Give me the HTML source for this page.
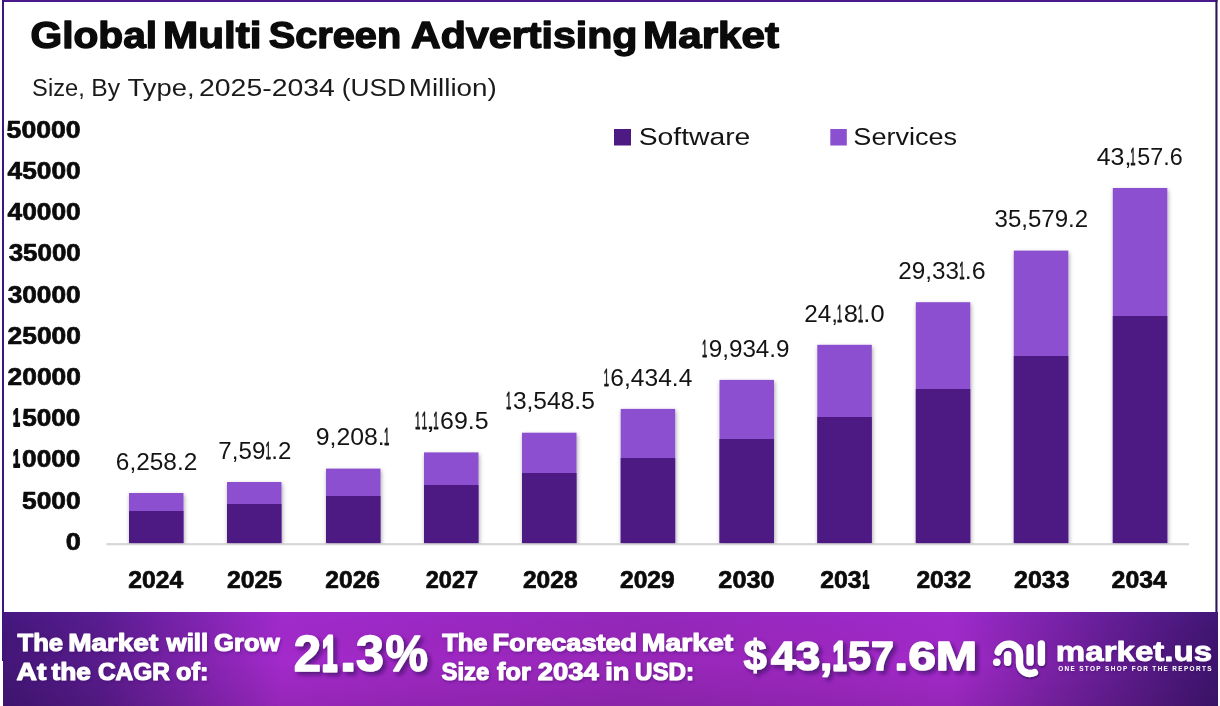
<!DOCTYPE html>
<html lang="en"><head><meta charset="utf-8"><title>Global Multi Screen Advertising Market</title>
<style>
html,body{margin:0;padding:0;background:#fff;}
body{width:1220px;height:706px;overflow:hidden;}
svg{display:block;font-family:"Liberation Sans", Arial, sans-serif;}
text{stroke-linejoin:round;}
</style></head><body>
<svg width="1220" height="706" viewBox="0 0 1220 706">
<defs>
<linearGradient id="fg" x1="0" y1="0" x2="1" y2="0">
<stop offset="0" stop-color="#431678"/>
<stop offset="0.08" stop-color="#591b8c"/>
<stop offset="0.23" stop-color="#a42acb"/>
<stop offset="0.36" stop-color="#9e28c2"/>
<stop offset="0.52" stop-color="#9727b8"/>
<stop offset="0.68" stop-color="#9e28c2"/>
<stop offset="0.78" stop-color="#a42acb"/>
<stop offset="0.90" stop-color="#6a1e98"/>
<stop offset="1" stop-color="#3e146e"/>
</linearGradient>
<linearGradient id="vg" x1="0" y1="0" x2="0" y2="1">
<stop offset="0" stop-color="#6a3cff" stop-opacity="0.07"/>
<stop offset="0.5" stop-color="#000" stop-opacity="0"/>
<stop offset="1" stop-color="#000" stop-opacity="0.09"/>
</linearGradient>
<filter id="bs" x="-20%" y="-20%" width="140%" height="140%">
<feDropShadow dx="0.8" dy="2.0" stdDeviation="2.0" flood-color="#000" flood-opacity="0.36"/>
</filter>
<filter id="ts" x="-10%" y="-20%" width="120%" height="150%">
<feDropShadow dx="3" dy="3" stdDeviation="2.2" flood-color="#3a0f63" flood-opacity="0.75"/>
</filter>
<filter id="ls" x="-10%" y="-20%" width="120%" height="150%">
<feDropShadow dx="1" dy="1.5" stdDeviation="1.4" flood-color="#3a0f63" flood-opacity="0.4"/>
</filter>
<filter id="lg" x="-20%" y="-20%" width="140%" height="150%">
<feDropShadow dx="0.6" dy="1.2" stdDeviation="1.3" flood-color="#2c0a55" flood-opacity="0.9"/>
</filter>
<clipPath id="cp"><rect x="0" y="0" width="1220" height="543.5"/></clipPath>
</defs>
<rect x="0" y="0" width="1220" height="706" fill="#fff"/>

<rect x="2" y="0" width="1215.5" height="2" fill="#4a1a8c"/>
<rect x="2" y="0" width="2" height="661" fill="#3f1580"/>
<rect x="1215.4" y="0" width="2.1" height="613" fill="#2e1458"/>
<rect x="3" y="612" width="1215" height="94" fill="url(#fg)"/>
<rect x="3" y="612" width="1215" height="94" fill="url(#vg)"/>
<rect x="106.5" y="543.1" width="1082.5" height="2.2" fill="#d6d6d6"/>
<g clip-path="url(#cp)"><g filter="url(#bs)">
<rect x="129.0" y="493.0" width="54.5" height="50.1" fill="#8b50cf"/>
<rect x="227.0" y="482.0" width="54.5" height="61.1" fill="#8b50cf"/>
<rect x="326.0" y="468.6" width="54.5" height="74.5" fill="#8b50cf"/>
<rect x="424.0" y="452.4" width="54.5" height="90.7" fill="#8b50cf"/>
<rect x="522.0" y="432.7" width="54.5" height="110.4" fill="#8b50cf"/>
<rect x="620.7" y="408.9" width="54.5" height="134.2" fill="#8b50cf"/>
<rect x="719.5" y="379.9" width="54.5" height="163.2" fill="#8b50cf"/>
<rect x="817.3" y="344.8" width="54.5" height="198.3" fill="#8b50cf"/>
<rect x="915.8" y="302.2" width="54.5" height="240.9" fill="#8b50cf"/>
<rect x="1013.8" y="250.6" width="54.5" height="292.5" fill="#8b50cf"/>
<rect x="1112.8" y="188.0" width="54.5" height="355.1" fill="#8b50cf"/>
</g></g>
<rect x="129.0" y="511.0" width="54.5" height="32.1" fill="#4c1a82"/>
<rect x="227.0" y="504.0" width="54.5" height="39.1" fill="#4c1a82"/>
<rect x="326.0" y="496.0" width="54.5" height="47.1" fill="#4c1a82"/>
<rect x="424.0" y="485.0" width="54.5" height="58.1" fill="#4c1a82"/>
<rect x="522.0" y="473.0" width="54.5" height="70.1" fill="#4c1a82"/>
<rect x="620.7" y="458.0" width="54.5" height="85.1" fill="#4c1a82"/>
<rect x="719.5" y="439.0" width="54.5" height="104.1" fill="#4c1a82"/>
<rect x="817.3" y="417.0" width="54.5" height="126.1" fill="#4c1a82"/>
<rect x="915.8" y="389.0" width="54.5" height="154.1" fill="#4c1a82"/>
<rect x="1013.8" y="356.0" width="54.5" height="187.1" fill="#4c1a82"/>
<rect x="1112.8" y="316.0" width="54.5" height="227.1" fill="#4c1a82"/>
<rect x="614" y="129" width="17" height="16.5" fill="#4c1a82"/>
<rect x="830.3" y="129" width="16.5" height="16.5" fill="#8b50cf"/>
<g filter="url(#lg)">
<g fill="none" stroke="#fff" stroke-width="7.3" stroke-linecap="round">
<path d="M998.1 652.1 A10.9 10.9 0 0 1 1019.5 654.9 L1019.5 663 A10.5 10.5 0 0 0 1034.4 672.5"/>
<path d="M1007.6 654.6 L1007.6 662.3"/>
<path d="M1030.1 647.6 L1030.1 662.2"/>
<path d="M1041.4 643.9 L1041.4 662.3"/>
</g>
<circle cx="996.7" cy="662.3" r="3.75" fill="#fff"/>
</g>
<text><tspan font-size="37.4" font-weight="bold" fill="#0b0b0b" stroke="#0b0b0b" stroke-width="1.4" x="30.53" y="48.3" textLength="126.57" lengthAdjust="spacingAndGlyphs">Global</tspan> <tspan font-size="37.4" font-weight="bold" fill="#0b0b0b" stroke="#0b0b0b" stroke-width="1.4" x="162.95" y="48.3" textLength="98.56" lengthAdjust="spacingAndGlyphs">Multi</tspan> <tspan font-size="37.4" font-weight="bold" fill="#0b0b0b" stroke="#0b0b0b" stroke-width="1.4" x="268.77" y="48.3" textLength="132.37" lengthAdjust="spacingAndGlyphs">Screen</tspan> <tspan font-size="37.4" font-weight="bold" fill="#0b0b0b" stroke="#0b0b0b" stroke-width="1.4" x="411.10" y="48.3" textLength="226.41" lengthAdjust="spacingAndGlyphs">Advertising</tspan> <tspan font-size="37.4" font-weight="bold" fill="#0b0b0b" stroke="#0b0b0b" stroke-width="1.4" x="643.12" y="48.3" textLength="135.90" lengthAdjust="spacingAndGlyphs">Market</tspan></text>
<text><tspan font-size="24.8" font-weight="normal" fill="#1a1a1a" x="32.10" y="95.8" textLength="52.64" lengthAdjust="spacingAndGlyphs">Size,</tspan> <tspan font-size="24.8" font-weight="normal" fill="#1a1a1a" x="91.33" y="95.8" textLength="28.77" lengthAdjust="spacingAndGlyphs">By</tspan> <tspan font-size="24.8" font-weight="normal" fill="#1a1a1a" x="127.52" y="95.8" textLength="67.06" lengthAdjust="spacingAndGlyphs">Type,</tspan> <tspan font-size="24.8" font-weight="normal" fill="#1a1a1a" x="198.99" y="95.8" textLength="135.92" lengthAdjust="spacingAndGlyphs">2025-2034</tspan> <tspan font-size="24.8" font-weight="normal" fill="#1a1a1a" x="341.68" y="95.8" textLength="64.39" lengthAdjust="spacingAndGlyphs">(USD</tspan> <tspan font-size="24.8" font-weight="normal" fill="#1a1a1a" x="408.73" y="95.8" textLength="88.08" lengthAdjust="spacingAndGlyphs">Million)</tspan></text>
<g font-size="24.3" font-weight="bold" fill="#0b0b0b" stroke="#0b0b0b" stroke-width="0.7">
<text x="6.64" y="137.8" textLength="73.99" lengthAdjust="spacingAndGlyphs">50000</text>
<text x="7.59" y="179.0" textLength="73.20" lengthAdjust="spacingAndGlyphs">45000</text>
<text x="7.59" y="220.2" textLength="73.20" lengthAdjust="spacingAndGlyphs">40000</text>
<text x="8.67" y="261.4" textLength="72.11" lengthAdjust="spacingAndGlyphs">35000</text>
<text x="7.65" y="302.6" textLength="73.02" lengthAdjust="spacingAndGlyphs">30000</text>
<text x="7.58" y="343.8" textLength="73.30" lengthAdjust="spacingAndGlyphs">25000</text>
<text x="7.58" y="385.0" textLength="73.30" lengthAdjust="spacingAndGlyphs">20000</text>
<text x="21.99" y="508.6" textLength="58.65" lengthAdjust="spacingAndGlyphs">5000</text>
<text x="65.69" y="549.8" textLength="15.10" lengthAdjust="spacingAndGlyphs">0</text>
</g>
<g font-size="23.9" font-weight="normal" fill="#141414">
<text x="115.82" y="469.7" textLength="81.50" lengthAdjust="spacingAndGlyphs">6,258.2</text>
<text x="994.53" y="227.3" textLength="93.60" lengthAdjust="spacingAndGlyphs">35,579.2</text>
</g>
<g font-size="24.3" font-weight="bold" fill="#0b0b0b" stroke="#0b0b0b" stroke-width="0.7">
<text x="128.36" y="587.5" textLength="55.03" lengthAdjust="spacingAndGlyphs">2024</text>
<text x="227.09" y="587.5" textLength="55.04" lengthAdjust="spacingAndGlyphs">2025</text>
<text x="325.36" y="587.5" textLength="54.58" lengthAdjust="spacingAndGlyphs">2026</text>
<text x="425.75" y="587.5" textLength="52.33" lengthAdjust="spacingAndGlyphs">2027</text>
<text x="522.97" y="587.5" textLength="54.61" lengthAdjust="spacingAndGlyphs">2028</text>
<text x="619.97" y="587.5" textLength="54.79" lengthAdjust="spacingAndGlyphs">2029</text>
<text x="718.37" y="587.5" textLength="56.15" lengthAdjust="spacingAndGlyphs">2030</text>
<text x="916.41" y="587.5" textLength="54.86" lengthAdjust="spacingAndGlyphs">2032</text>
<text x="1014.10" y="587.5" textLength="55.41" lengthAdjust="spacingAndGlyphs">2033</text>
<text x="1111.61" y="587.5" textLength="55.27" lengthAdjust="spacingAndGlyphs">2034</text>
</g>
<g font-size="24.6" font-weight="normal" fill="#141414">
<text x="638.73" y="144.8" textLength="111.64" lengthAdjust="spacingAndGlyphs">Software</text>
<text x="853.39" y="144.8" textLength="103.79" lengthAdjust="spacingAndGlyphs">Services</text>
</g>
<g font-size="28" font-weight="bold" fill="#fff" stroke="#fff" stroke-width="0.8" filter="url(#ls)">
<text x="1055.87" y="661.4" textLength="156.21" lengthAdjust="spacingAndGlyphs">market.us</text>
</g>
<g font-size="6.4" font-weight="bold" fill="#fff" filter="url(#ls)">
<text x="1058.16" y="671.3" textLength="153.30" lengthAdjust="spacing">ONE STOP SHOP FOR THE REPORTS</text>
</g>
<text><tspan font-size="24.3" font-weight="bold" fill="#0b0b0b" stroke="#0b0b0b" stroke-width="2.0" x="12.99" y="426.2" textLength="6.96" lengthAdjust="spacingAndGlyphs">1</tspan><tspan font-size="24.3" font-weight="bold" fill="#0b0b0b" stroke="#0b0b0b" stroke-width="0.7" x="22.22" y="426.2" textLength="58.20" lengthAdjust="spacingAndGlyphs">5000</tspan></text>
<text><tspan font-size="24.3" font-weight="bold" fill="#0b0b0b" stroke="#0b0b0b" stroke-width="2.0" x="12.99" y="467.4" textLength="6.96" lengthAdjust="spacingAndGlyphs">1</tspan><tspan font-size="24.3" font-weight="bold" fill="#0b0b0b" stroke="#0b0b0b" stroke-width="0.7" x="22.13" y="467.4" textLength="58.29" lengthAdjust="spacingAndGlyphs">0000</tspan></text>
<text><tspan font-size="23.9" font-weight="normal" fill="#141414" x="218.39" y="458.7" textLength="46.99" lengthAdjust="spacingAndGlyphs">7,59</tspan><tspan font-size="23.9" font-weight="normal" fill="#141414" stroke="#141414" stroke-width="0.9" x="265.38" y="458.7" textLength="5.44" lengthAdjust="spacingAndGlyphs">1</tspan><tspan font-size="23.9" font-weight="normal" fill="#141414" x="271.36" y="458.7" textLength="20.14" lengthAdjust="spacingAndGlyphs">.2</tspan></text>
<text><tspan font-size="23.9" font-weight="normal" fill="#141414" x="315.70" y="445.3" textLength="69.06" lengthAdjust="spacingAndGlyphs">9,208.</tspan><tspan font-size="23.9" font-weight="normal" fill="#141414" stroke="#141414" stroke-width="0.9" x="384.04" y="445.3" textLength="5.32" lengthAdjust="spacingAndGlyphs">1</tspan></text>
<text><tspan font-size="23.9" font-weight="normal" fill="#141414" stroke="#141414" stroke-width="0.9" x="414.94" y="429.1" textLength="5.37" lengthAdjust="spacingAndGlyphs">1</tspan><tspan font-size="23.9" font-weight="normal" fill="#141414" stroke="#141414" stroke-width="0.9" x="421.84" y="429.1" textLength="5.29" lengthAdjust="spacingAndGlyphs">1</tspan><tspan font-size="23.9" font-weight="normal" fill="#141414" x="425.49" y="429.1" textLength="9.89" lengthAdjust="spacingAndGlyphs">,</tspan><tspan font-size="23.9" font-weight="normal" fill="#141414" stroke="#141414" stroke-width="0.9" x="433.23" y="429.1" textLength="5.35" lengthAdjust="spacingAndGlyphs">1</tspan><tspan font-size="23.9" font-weight="normal" fill="#141414" x="440.13" y="429.1" textLength="48.50" lengthAdjust="spacingAndGlyphs">69.5</tspan></text>
<text><tspan font-size="23.9" font-weight="normal" fill="#141414" stroke="#141414" stroke-width="0.9" x="505.92" y="409.4" textLength="5.33" lengthAdjust="spacingAndGlyphs">1</tspan><tspan font-size="23.9" font-weight="normal" fill="#141414" x="512.92" y="409.4" textLength="81.88" lengthAdjust="spacingAndGlyphs">3,548.5</tspan></text>
<text><tspan font-size="23.9" font-weight="normal" fill="#141414" stroke="#141414" stroke-width="0.9" x="603.65" y="385.6" textLength="5.22" lengthAdjust="spacingAndGlyphs">1</tspan><tspan font-size="23.9" font-weight="normal" fill="#141414" x="610.33" y="385.6" textLength="82.01" lengthAdjust="spacingAndGlyphs">6,434.4</tspan></text>
<text><tspan font-size="23.9" font-weight="normal" fill="#141414" stroke="#141414" stroke-width="0.9" x="701.97" y="356.6" textLength="5.18" lengthAdjust="spacingAndGlyphs">1</tspan><tspan font-size="23.9" font-weight="normal" fill="#141414" x="708.76" y="356.6" textLength="80.78" lengthAdjust="spacingAndGlyphs">9,934.9</tspan></text>
<text><tspan font-size="23.9" font-weight="normal" fill="#141414" x="804.18" y="321.5" textLength="33.81" lengthAdjust="spacingAndGlyphs">24,</tspan><tspan font-size="23.9" font-weight="normal" fill="#141414" stroke="#141414" stroke-width="0.9" x="837.05" y="321.5" textLength="5.11" lengthAdjust="spacingAndGlyphs">1</tspan><tspan font-size="23.9" font-weight="normal" fill="#141414" x="843.67" y="321.5" textLength="14.23" lengthAdjust="spacingAndGlyphs">8</tspan><tspan font-size="23.9" font-weight="normal" fill="#141414" stroke="#141414" stroke-width="0.9" x="857.94" y="321.5" textLength="5.12" lengthAdjust="spacingAndGlyphs">1</tspan><tspan font-size="23.9" font-weight="normal" fill="#141414" x="863.33" y="321.5" textLength="21.21" lengthAdjust="spacingAndGlyphs">.0</tspan></text>
<text><tspan font-size="24.3" font-weight="bold" fill="#0b0b0b" stroke="#0b0b0b" stroke-width="0.7" x="820.20" y="587.5" textLength="41.40" lengthAdjust="spacingAndGlyphs">203</tspan><tspan font-size="24.3" font-weight="bold" fill="#0b0b0b" stroke="#0b0b0b" stroke-width="2.0" x="862.45" y="587.5" textLength="6.71" lengthAdjust="spacingAndGlyphs">1</tspan></text>
<text><tspan font-size="23.9" font-weight="normal" fill="#141414" x="898.38" y="278.9" textLength="60.72" lengthAdjust="spacingAndGlyphs">29,33</tspan><tspan font-size="23.9" font-weight="normal" fill="#141414" stroke="#141414" stroke-width="0.9" x="959.34" y="278.9" textLength="5.29" lengthAdjust="spacingAndGlyphs">1</tspan><tspan font-size="23.9" font-weight="normal" fill="#141414" x="964.84" y="278.9" textLength="20.87" lengthAdjust="spacingAndGlyphs">.6</tspan></text>
<text><tspan font-size="23.9" font-weight="normal" fill="#141414" x="1096.73" y="164.7" textLength="34.65" lengthAdjust="spacingAndGlyphs">43,</tspan><tspan font-size="23.9" font-weight="normal" fill="#141414" stroke="#141414" stroke-width="0.9" x="1130.25" y="164.7" textLength="5.27" lengthAdjust="spacingAndGlyphs">1</tspan><tspan font-size="23.9" font-weight="normal" fill="#141414" x="1137.18" y="164.7" textLength="45.44" lengthAdjust="spacingAndGlyphs">57.6</tspan></text>
<text filter="url(#ls)"><tspan font-size="23.6" font-weight="bold" fill="#fff" stroke="#fff" stroke-width="1.1" x="17.56" y="650.6" textLength="45.59" lengthAdjust="spacingAndGlyphs">The</tspan> <tspan font-size="23.6" font-weight="bold" fill="#fff" stroke="#fff" stroke-width="1.1" x="68.17" y="650.6" textLength="90.04" lengthAdjust="spacingAndGlyphs">Market</tspan> <tspan font-size="23.6" font-weight="bold" fill="#fff" stroke="#fff" stroke-width="1.1" x="166.53" y="650.6" textLength="41.74" lengthAdjust="spacingAndGlyphs">will</tspan> <tspan font-size="23.6" font-weight="bold" fill="#fff" stroke="#fff" stroke-width="1.1" x="214.06" y="650.6" textLength="65.62" lengthAdjust="spacingAndGlyphs">Grow</tspan></text>
<text filter="url(#ls)"><tspan font-size="23.6" font-weight="bold" fill="#fff" stroke="#fff" stroke-width="1.1" x="16.49" y="680.0" textLength="29.83" lengthAdjust="spacingAndGlyphs">At</tspan> <tspan font-size="23.6" font-weight="bold" fill="#fff" stroke="#fff" stroke-width="1.1" x="51.49" y="680.0" textLength="39.33" lengthAdjust="spacingAndGlyphs">the</tspan> <tspan font-size="23.6" font-weight="bold" fill="#fff" stroke="#fff" stroke-width="1.1" x="97.93" y="680.0" textLength="71.93" lengthAdjust="spacingAndGlyphs">CAGR</tspan> <tspan font-size="23.6" font-weight="bold" fill="#fff" stroke="#fff" stroke-width="1.1" x="175.99" y="680.0" textLength="32.34" lengthAdjust="spacingAndGlyphs">of:</tspan></text>
<text filter="url(#ls)"><tspan font-size="23.6" font-weight="bold" fill="#fff" stroke="#fff" stroke-width="1.1" x="442.24" y="650.6" textLength="45.24" lengthAdjust="spacingAndGlyphs">The</tspan> <tspan font-size="23.6" font-weight="bold" fill="#fff" stroke="#fff" stroke-width="1.1" x="492.55" y="650.6" textLength="144.55" lengthAdjust="spacingAndGlyphs">Forecasted</tspan> <tspan font-size="23.6" font-weight="bold" fill="#fff" stroke="#fff" stroke-width="1.1" x="641.79" y="650.6" textLength="91.39" lengthAdjust="spacingAndGlyphs">Market</tspan></text>
<text filter="url(#ls)"><tspan font-size="23.6" font-weight="bold" fill="#fff" stroke="#fff" stroke-width="1.1" x="441.53" y="680.2" textLength="47.85" lengthAdjust="spacingAndGlyphs">Size</tspan> <tspan font-size="23.6" font-weight="bold" fill="#fff" stroke="#fff" stroke-width="1.1" x="497.13" y="680.2" textLength="33.77" lengthAdjust="spacingAndGlyphs">for</tspan> <tspan font-size="23.6" font-weight="bold" fill="#fff" stroke="#fff" stroke-width="1.1" x="537.81" y="680.2" textLength="60.85" lengthAdjust="spacingAndGlyphs">2034</tspan> <tspan font-size="23.6" font-weight="bold" fill="#fff" stroke="#fff" stroke-width="1.1" x="605.15" y="680.2" textLength="23.96" lengthAdjust="spacingAndGlyphs">in</tspan> <tspan font-size="23.6" font-weight="bold" fill="#fff" stroke="#fff" stroke-width="1.1" x="634.98" y="680.2" textLength="59.03" lengthAdjust="spacingAndGlyphs">USD:</tspan></text>
<text filter="url(#ts)"><tspan font-size="50" font-weight="bold" fill="#fff" stroke="#fff" stroke-width="1.4" x="293.80" y="671.2" textLength="27.28" lengthAdjust="spacingAndGlyphs">2</tspan><tspan font-size="50" font-weight="bold" fill="#fff" stroke="#fff" stroke-width="3.2" x="322.09" y="671.2" textLength="15.27" lengthAdjust="spacingAndGlyphs">1</tspan><tspan font-size="50" font-weight="bold" fill="#fff" stroke="#fff" stroke-width="1.4" x="339.46" y="671.2" textLength="17.27" lengthAdjust="spacingAndGlyphs">.</tspan><tspan font-size="50" font-weight="bold" fill="#fff" stroke="#fff" stroke-width="1.4" x="356.08" y="671.2" textLength="27.96" lengthAdjust="spacingAndGlyphs">3</tspan><tspan font-size="50" font-weight="bold" fill="#fff" stroke="#fff" stroke-width="1.4" x="385.44" y="671.2" textLength="42.42" lengthAdjust="spacingAndGlyphs">%</tspan></text>
<text filter="url(#ts)"><tspan font-size="43" font-weight="bold" fill="#fff" stroke="#fff" stroke-width="1.2" x="743.39" y="669.9" textLength="23.31" lengthAdjust="spacingAndGlyphs">$</tspan><tspan font-size="40.2" font-weight="bold" fill="#fff" stroke="#fff" stroke-width="1.4" x="770.90" y="669.8" textLength="61.54" lengthAdjust="spacingAndGlyphs">43,</tspan><tspan font-size="40.2" font-weight="bold" fill="#fff" stroke="#fff" stroke-width="2.8" x="832.67" y="669.8" textLength="13.87" lengthAdjust="spacingAndGlyphs">1</tspan><tspan font-size="40.2" font-weight="bold" fill="#fff" stroke="#fff" stroke-width="1.4" x="848.05" y="669.8" textLength="45.78" lengthAdjust="spacingAndGlyphs">57</tspan><tspan font-size="40.2" font-weight="bold" fill="#fff" stroke="#fff" stroke-width="1.4" x="894.29" y="669.8" textLength="83.11" lengthAdjust="spacingAndGlyphs">.6M</tspan></text>
</svg></body></html>
